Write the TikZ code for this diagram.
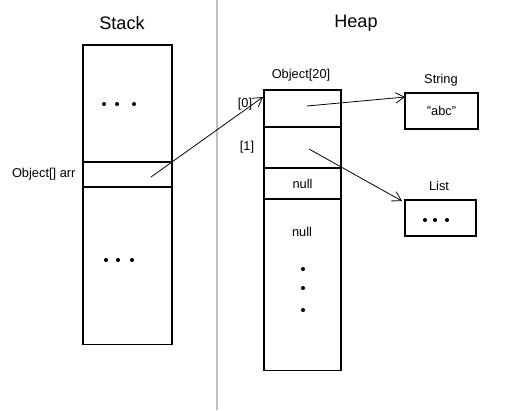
\documentclass[tikz,border=0pt]{standalone}
\usepackage{fontspec}
\setmainfont{Liberation Sans}
\usetikzlibrary{positioning,arrows.meta}

\begin{document}
\begin{tikzpicture}[x=0.02cm, y=-0.02cm, line width=0.6pt,
  font=\fontsize{7.3}{9}\selectfont,
  cell/.style={draw, inner sep=0pt, outer sep=0pt},
  stk/.style={cell, minimum width=1.78cm},
  hp/.style={cell, minimum width=1.54cm},
  box/.style={cell, minimum height=0.72cm},
  title/.style={font=\fontsize{10.3}{12}\selectfont},
  ptr/.style={-{Straight Barb[length=5pt,width=6pt]}, line width=0.45pt}]
\useasboundingbox (0,0) rectangle (518,410);

% divider
\draw [black!25, line width=1pt] (217,0) -- (217,410);

% stack
\node [title] (stack) at (122,23) {Stack};
\node [stk, minimum height=2.34cm, anchor=north west] (s0) at (83,45) {};
\node [stk, minimum height=0.5cm, below=0pt of s0] (sarr) {};
\node [stk, minimum height=3.16cm, below=0pt of sarr] (s1) {};
\node [left=3pt of sarr, inner sep=1pt] (arrlbl) {Object[] arr};
\foreach \x in {104,117,134} \fill (\x,104) circle [radius=1.15pt];
\foreach \x in {106,118,132} \fill (\x,260) circle [radius=1.15pt];

% heap
\node [title] (heap) at (356,23) {Heap};
\node [hp, minimum height=0.74cm, anchor=north west] (h0) at (264,90) {};
\node [hp, minimum height=0.82cm, below=0pt of h0] (h1) {};
\node [hp, minimum height=0.62cm, below=0pt of h1] (h2) {null};
\node [hp, minimum height=3.44cm, below=0pt of h2] (h3) {};
\node (objlbl) at (301,75) {Object[20]};
\node (i0) at (245,104) {[0]};
\node (i1) at (247,147) {[1]};
\node (null3) at (302,232) {null};
\foreach \y in {269,288,310} \fill (303,\y) circle [radius=1.15pt];

% objects
\node [box, minimum width=1.46cm, anchor=north west] (str) at (405,93) {"abc"};
\node (strlbl) at (441,80) {String};
\node [box, minimum width=1.42cm, anchor=north west] (lst) at (405,200) {};
\node (lstlbl) at (439,186) {List};
\foreach \x in {425,435,447} \fill (\x,220) circle [radius=1.15pt];

% references
\coordinate (p0) at (151,177);
\coordinate (p1) at (307,106);
\coordinate (p2) at (309,149);
\draw [ptr] (p0) -- ([shift={(-1,7)}]h0.north west);
\draw [ptr] (p1) -- ([shift={(0,4)}]str.north west);
\draw [ptr] (p2) -- ([shift={(-3,1)}]lst.north west);
\end{tikzpicture}
\end{document}
